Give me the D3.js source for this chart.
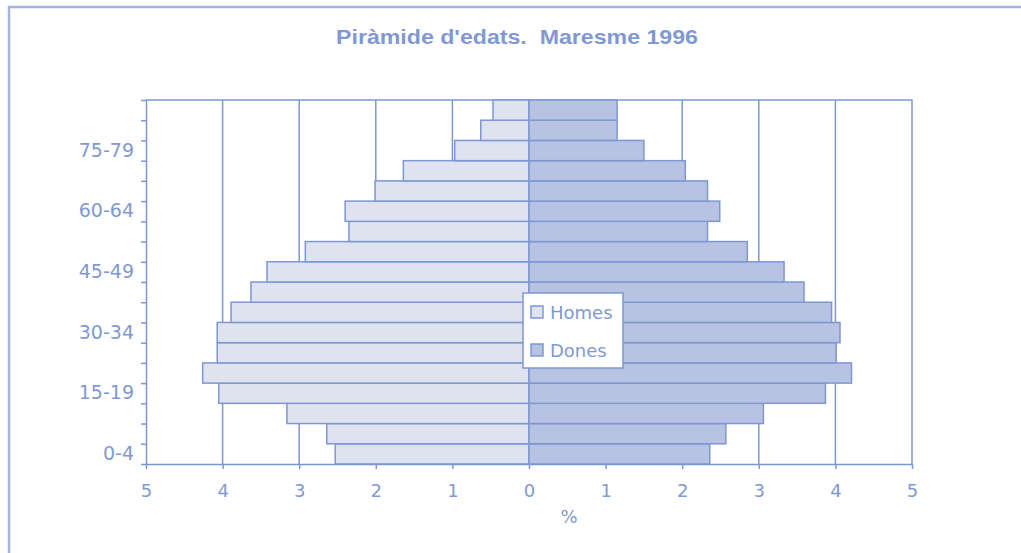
<!DOCTYPE html>
<html>
<head>
<meta charset="utf-8">
<script src="https://cdn.jsdelivr.net/npm/d3@7"></script>
<style>
  body { margin: 0; background: #fff; }
  svg { display: block; }
</style>
</head>
<body>
<div id="chart"></div>
<script>
// age groups, bottom to top
const ageGroups = ['0-4', '5-9', '10-14', '15-19', '20-24', '25-29', '30-34', '35-39', '40-44',
  '45-49', '50-54', '55-59', '60-64', '65-69', '70-74', '75-79', '80-84', '85+'];
// % of population
const homes = [2.53, 2.64, 3.16, 4.05, 4.26, 4.07, 4.07, 3.89, 3.63,
  3.42, 2.92, 2.35, 2.40, 2.01, 1.64, 0.97, 0.63, 0.47];
const dones = [2.36, 2.57, 3.06, 3.87, 4.21, 4.01, 4.06, 3.95, 3.59,
  3.33, 2.85, 2.33, 2.49, 2.33, 2.04, 1.50, 1.15, 1.15];
const xTicks = [-5, -4, -3, -2, -1, 0, 1, 2, 3, 4, 5];
const yLabels = ['0-4', '15-19', '30-34', '45-49', '60-64', '75-79'];
const seriesNames = ['Homes', 'Dones'];

const width = 1021, height = 553;
const margin = {top: 100, right: 109, bottom: 89, left: 146};
const blue = '#7d97d3';
const textBlue = '#7f99d2';
const fills = {Homes: '#dfe3f0', Dones: '#b8c3e3'};
const font = '"DejaVu Sans", Verdana, sans-serif';

const svg = d3.select('#chart').append('svg')
  .attr('width', width)
  .attr('height', height);

//Outer frame of the chart area
svg.append('rect')
  .attr('x', 9)
  .attr('y', 7)
  .attr('width', width + 20)
  .attr('height', height + 20)
  .attr('fill', 'none')
  .attr('stroke', '#a2b4e0')
  .attr('stroke-width', 2.5);

svg.append('text')
  .attr('x', 336)
  .attr('y', 44)
  .attr('textLength', 362)
  .attr('lengthAdjust', 'spacingAndGlyphs')
  .style('white-space', 'pre')
  .style('font-family', '"Liberation Sans", Arial, sans-serif')
  .style('font-weight', 'bold')
  .style('font-size', '21px')
  .attr('fill', textBlue)
  .text("Piràmide d'edats.  Maresme 1996");

const x = d3.scaleLinear()
  .domain([-5, 5])
  .range([margin.left, width - margin.right]);

const y = d3.scaleBand()
  .domain(ageGroups)
  .range([height - margin.bottom, margin.top])
  .padding(0);

//Index scale for the ticks between the bands
const yIdx = d3.scaleLinear()
  .domain([0, ageGroups.length])
  .range([height - margin.bottom, margin.top]);

const g = svg.append('g');

//Vertical gridlines behind the bars
g.append('g')
  .selectAll('line')
  .data(xTicks.filter(t => t > -5 && t < 5))
  .join('line')
  .attr('x1', d => x(d))
  .attr('x2', d => x(d))
  .attr('y1', margin.top)
  .attr('y2', height - margin.bottom)
  .attr('stroke', blue)
  .attr('stroke-width', 1.5);

//Top and right frame lines
g.append('path')
  .attr('d', 'M' + x(-5) + ',' + margin.top + 'H' + x(5) + 'V' + (height - margin.bottom))
  .attr('fill', 'none')
  .attr('stroke', blue)
  .attr('stroke-width', 1.5);

const rows = ageGroups.map((a, i) => ({age: a, homes: homes[i], dones: dones[i]}));

g.append('g')
  .selectAll('rect')
  .data(rows)
  .join('rect')
  .attr('x', d => x(-d.homes))
  .attr('y', d => y(d.age))
  .attr('width', d => x(0) - x(-d.homes))
  .attr('height', y.bandwidth())
  .attr('fill', fills.Homes)
  .attr('stroke', blue)
  .attr('stroke-width', 1.5);

g.append('g')
  .selectAll('rect')
  .data(rows)
  .join('rect')
  .attr('x', x(0))
  .attr('y', d => y(d.age))
  .attr('width', d => x(d.dones) - x(0))
  .attr('height', y.bandwidth())
  .attr('fill', fills.Dones)
  .attr('stroke', blue)
  .attr('stroke-width', 1.5);

//Axes
const xAxis = g.append('g')
  .attr('transform', 'translate(0,' + (height - margin.bottom) + ')')
  .call(d3.axisBottom(x).tickValues(xTicks).tickFormat(d => Math.abs(d)).tickSize(5).tickPadding(15).tickSizeOuter(0));

const yTickAxis = g.append('g')
  .attr('transform', 'translate(' + margin.left + ',0)')
  .call(d3.axisLeft(yIdx).tickValues(d3.range(0, ageGroups.length + 1)).tickFormat('').tickSize(5).tickSizeOuter(0));

const yAxis = g.append('g')
  .attr('transform', 'translate(' + margin.left + ',0)')
  .call(d3.axisLeft(y).tickValues(yLabels).tickSize(0).tickPadding(12));
yAxis.select('.domain').remove();

[xAxis, yTickAxis].forEach(a => {
  a.select('.domain').attr('stroke', blue).attr('stroke-width', 1.5);
  a.selectAll('.tick line').attr('stroke', blue).attr('stroke-width', 1.5);
});
xAxis.selectAll('text')
  .attr('fill', textBlue)
  .style('font-family', font)
  .style('font-size', '18px');
yAxis.selectAll('text')
  .attr('fill', textBlue)
  .style('font-family', font)
  .style('font-size', '19px');

svg.append('text')
  .attr('x', 569)
  .attr('y', 523)
  .attr('text-anchor', 'middle')
  .attr('fill', textBlue)
  .style('font-family', font)
  .style('font-size', '18px')
  .text('%');

//Legend box in the middle of the chart
const legend = svg.append('g')
  .attr('transform', 'translate(523,293)');

legend.append('rect')
  .attr('width', 100)
  .attr('height', 75)
  .attr('fill', '#fff')
  .attr('stroke', blue)
  .attr('stroke-width', 1.5);

const item = legend.selectAll('.item')
  .data(seriesNames)
  .join('g')
  .attr('class', 'item')
  .attr('transform', (d, i) => 'translate(8,' + (13 + i * 38) + ')');

item.append('rect')
  .attr('width', 12)
  .attr('height', 12)
  .attr('fill', d => fills[d])
  .attr('stroke', blue)
  .attr('stroke-width', 1.5);

item.append('text')
  .attr('x', 19)
  .attr('y', 13)
  .attr('fill', textBlue)
  .style('font-family', font)
  .style('font-size', '18px')
  .text(d => d);
</script>
</body>
</html>
